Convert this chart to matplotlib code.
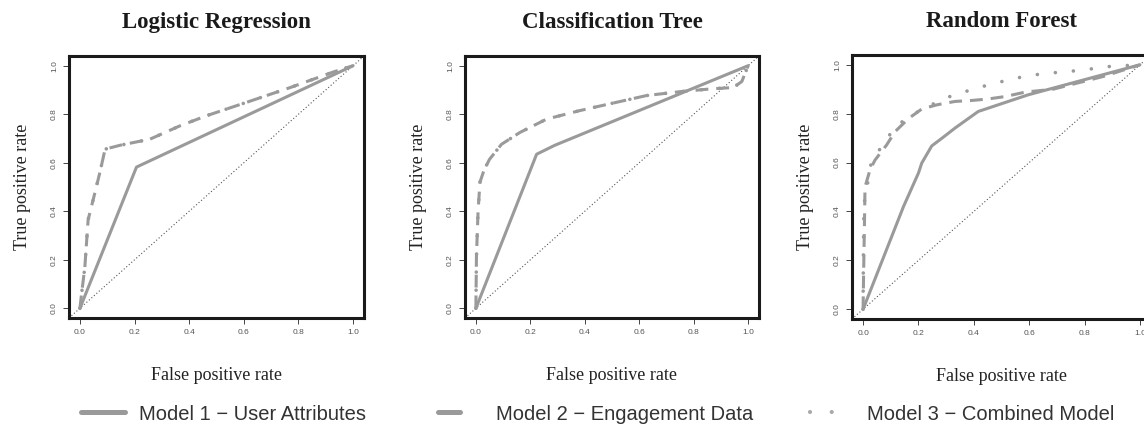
import matplotlib
matplotlib.use("Agg")
import matplotlib.pyplot as plt
from matplotlib.lines import Line2D

# ---------------- data ----------------
titles = ["Logistic Regression", "Classification Tree", "Random Forest"]
series_names = ["Model 1 \u2212 User Attributes", "Model 2 \u2212 Engagement Data", "Model 3 \u2212 Combined Model"]
ticks = [0.0, 0.2, 0.4, 0.6, 0.8, 1.0]
tick_labels = ["0.0", "0.2", "0.4", "0.6", "0.8", "1.0"]

# Logistic Regression
lr_m1_fpr = [0, 0.207, 1]
lr_m1_tpr = [0, 0.582, 1]
lr_m2_fpr = [0, 0.005, 0.018, 0.03, 0.055, 0.073, 0.085, 0.092, 0.147, 0.256, 0.366, 0.464, 0.61, 0.77, 0.93, 1]
lr_m2_tpr = [0, 0.05, 0.17, 0.365, 0.477, 0.56, 0.62, 0.656, 0.672, 0.697, 0.752, 0.794, 0.849, 0.91, 0.975, 1]
lr_m3_fpr = [0, 0.005, 0.018, 0.03, 0.055, 0.073, 0.085, 0.092, 0.147, 0.256, 0.366, 0.464, 0.61, 0.77, 0.93, 1]
lr_m3_tpr = [0, 0.05, 0.17, 0.365, 0.477, 0.56, 0.62, 0.656, 0.672, 0.697, 0.752, 0.794, 0.849, 0.91, 0.975, 1]

# Classification Tree
ct_m1_fpr = [0, 0.223, 0.29, 1]
ct_m1_tpr = [0, 0.635, 0.672, 1]
ct_m2_fpr = [0, 0.002, 0.008, 0.015, 0.03, 0.05, 0.094, 0.162, 0.26, 0.382, 0.504, 0.627, 0.75, 0.87, 0.946, 0.977, 1]
ct_m2_tpr = [0, 0.21, 0.40, 0.52, 0.57, 0.614, 0.676, 0.725, 0.78, 0.815, 0.846, 0.877, 0.893, 0.905, 0.91, 0.935, 1]
ct_m3_fpr = [0, 0.002, 0.008, 0.015, 0.03, 0.05, 0.094, 0.162, 0.26, 0.382, 0.504, 0.627, 0.75, 0.87, 0.946, 0.977, 1]
ct_m3_tpr = [0, 0.21, 0.40, 0.52, 0.57, 0.614, 0.676, 0.725, 0.78, 0.815, 0.846, 0.877, 0.893, 0.905, 0.91, 0.935, 1]

# Random Forest
rf_m1_fpr = [0, 0.146, 0.2, 0.212, 0.248, 0.29, 0.332, 0.416, 0.596, 1]
rf_m1_tpr = [0, 0.42, 0.557, 0.598, 0.668, 0.704, 0.741, 0.809, 0.877, 1]
rf_m2_fpr = [0, 0.002, 0.005, 0.007, 0.025, 0.043, 0.085, 0.116, 0.164, 0.212, 0.266, 0.332, 0.392, 0.451, 0.513, 0.585, 0.686, 0.867, 1]
rf_m2_tpr = [0, 0.15, 0.35, 0.50, 0.57, 0.61, 0.672, 0.727, 0.78, 0.819, 0.836, 0.85, 0.854, 0.86, 0.87, 0.888, 0.90, 0.952, 1]
rf_m3_fpr = [0, 0.001, 0.003, 0.031, 0.061, 0.092, 0.122, 0.164, 0.212, 0.26, 0.308, 0.362, 0.414, 0.465, 0.519, 0.573, 0.621, 0.675, 0.783, 0.89, 1]
rf_m3_tpr = [0, 0.2, 0.427, 0.61, 0.655, 0.707, 0.754, 0.782, 0.819, 0.843, 0.868, 0.888, 0.905, 0.922, 0.936, 0.95, 0.959, 0.966, 0.977, 0.993, 1]

panels = [
    [(lr_m1_fpr, lr_m1_tpr), (lr_m2_fpr, lr_m2_tpr), (lr_m3_fpr, lr_m3_tpr)],
    [(ct_m1_fpr, ct_m1_tpr), (ct_m2_fpr, ct_m2_tpr), (ct_m3_fpr, ct_m3_tpr)],
    [(rf_m1_fpr, rf_m1_tpr), (rf_m2_fpr, rf_m2_tpr), (rf_m3_fpr, rf_m3_tpr)],
]

# ---------------- style ----------------
W, H = 1144, 428
fig = plt.figure(figsize=(W / 100, H / 100), dpi=100)
fig.patch.set_facecolor("white")

curve_color = "#9a9a9a"
styles = [
    dict(linestyle="-", lw=2.2),
    dict(linestyle=(0, (4.2, 2.6)), lw=2.2),
    dict(linestyle=(0, (0.01, 5.0)), lw=2.6, dash_capstyle="round"),
]

# axes boxes in pixels: left, top, right, bottom
boxes = [(69, 56, 364, 318), (465, 56, 759, 318), (852, 55, 1151, 319)]

serif = "Liberation Serif"
sans = "Liberation Sans"

for i, (box, title, curves) in enumerate(zip(boxes, titles, panels)):
    l, t, r, b = box
    ax = fig.add_axes([l / W, 1 - b / H, (r - l) / W, (b - t) / H])
    ax.set_xlim(-0.04, 1.04)
    ax.set_ylim(-0.04, 1.04)
    ax.axline((0, 0), slope=1, color="#555555", lw=0.8, linestyle=(0, (1, 2)))
    for (fx, ty), st in zip(curves, styles):
        ax.plot(fx, ty, color=curve_color, solid_capstyle="round", **st)
    for sp in ax.spines.values():
        sp.set_linewidth(2.2)
        sp.set_color("#1a1a1a")
    ax.set_xticks(ticks)
    ax.set_yticks(ticks)
    ax.set_xticklabels(tick_labels, fontsize=6, family=sans, color="#555555")
    ax.set_yticklabels(tick_labels, fontsize=6, family=sans, color="#555555",
                       rotation=90, va="center")
    ax.tick_params(axis="both", length=4.5, width=0.7, color="#444444", pad=3.5)
    ax.set_title(title, fontsize=16.5, family=serif, fontweight="bold", pad=20, color="#1a1a1a")
    ax.set_ylabel("True positive rate", fontsize=13, family=serif, labelpad=14, color="#222222")
    ax.set_xlabel("False positive rate", fontsize=13, family=serif, labelpad=22, color="#222222")

# ---------------- legend ----------------
leg_handles = [
    Line2D([], [], color=curve_color, lw=3.6, solid_capstyle="round"),
    Line2D([], [], color=curve_color, lw=3.6, solid_capstyle="round"),
    Line2D([], [], color="#aaaaaa", lw=3.0, linestyle=(0, (0.01, 5.2)), dash_capstyle="round"),
]
leg_x = [81, 438, 810]
leg_len = [2.18, 1.09, 1.09]
leg_pad = [0.7, 1.8, 1.75]
for h, name, x0, hl, hp in zip(leg_handles, series_names, leg_x, leg_len, leg_pad):
    lg = fig.legend([h], [name], loc="center left", bbox_to_anchor=(x0 / W, 1 - 414 / H),
                    frameon=False, borderpad=0, borderaxespad=0, handlelength=hl,
                    handletextpad=hp, prop=dict(family=sans, size=14.5))
    for txt in lg.get_texts():
        txt.set_color("#333333")

fig.savefig("out.png", dpi=100, facecolor="white")
